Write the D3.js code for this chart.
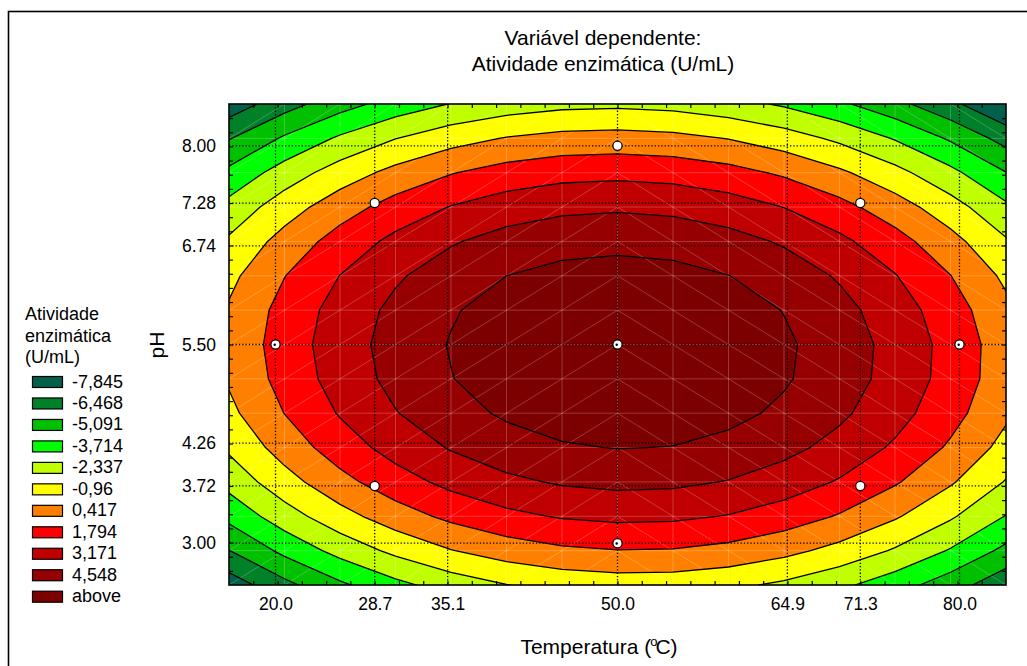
<!DOCTYPE html>
<html><head><meta charset="utf-8">
<script src="https://cdn.jsdelivr.net/npm/d3@7"></script>
<style>
body{margin:0;background:#fff}
svg{display:block}
text{font-family:"Liberation Sans",Arial,Helvetica,sans-serif;fill:#000}
</style>
</head><body>
<svg id="c" width="1027" height="666"></svg>
<script>
// ---------- data ----------
const levels = [-7.845, -6.468, -5.091, -3.714, -2.337, -0.96, 0.417, 1.794, 3.171, 4.548];
const legendLabels = ["-7,845", "-6,468", "-5,091", "-3,714", "-2,337", "-0,96", "0,417", "1,794", "3,171", "4,548", "above"];
const bandColors = ["#00604b", "#008028", "#00c000", "#00ff00", "#c0ff00", "#ffff00", "#ff8000", "#ff0000", "#c00000", "#960000", "#7d0000"];
const xTicks = [20.0, 28.7, 35.1, 50.0, 64.9, 71.3, 80.0];
const yTicks = [3.00, 3.72, 4.26, 5.50, 6.74, 7.28, 8.00];
// experimental design points (Temperatura, pH)
const designT  = [50.0, 28.7, 71.3, 20.0, 50.0, 80.0, 28.7, 71.3, 50.0];
const designPH = [8.00, 7.28, 7.28, 5.50, 5.50, 5.50, 3.72, 3.72, 3.00];
const designMarked = [false, false, false, true, true, true, false, false, true];
// fitted quadratic model on coded variables: b0, bT, bT², bpH, bpH², bT·pH
const coefficients = [5.862, 0.098, -2.479, -0.274, -2.771, -0.16];
const codingCenter = [50.0, 5.50];
const codingStep = [21.3, 1.78];
const codedRangeT = [-1.6, 1.6];
const codedRangePH = [-1.7, 1.7];
const gridN = 15;

// ---------- setup ----------
const svg = d3.select("#c");
const L = 229, R = 1006, T = 104, B = 585;
const Tmin = codingCenter[0] + codedRangeT[0] * codingStep[0];
const Tmax = codingCenter[0] + codedRangeT[1] * codingStep[0];
const Pmin = codingCenter[1] + codedRangePH[0] * codingStep[1];
const Pmax = codingCenter[1] + codedRangePH[1] * codingStep[1];
const x = d3.scaleLinear().domain([Tmin, Tmax]).range([L, R]);
const y = d3.scaleLinear().domain([Pmin, Pmax]).range([B, T]);

function model(t, p) {
  const a = (t - codingCenter[0]) / codingStep[0];
  const b = (p - codingCenter[1]) / codingStep[1];
  const c = coefficients;
  return c[0] + c[1] * a + c[2] * a * a + c[3] * b + c[4] * b * b + c[5] * a * b;
}
const dT = (Tmax - Tmin) / (gridN - 1), dP = (Pmax - Pmin) / (gridN - 1);
const Tn = d3.range(gridN).map(i => Tmin + i * dT);
const Pn = d3.range(gridN).map(j => Pmax - j * dP);
const values = [];
for (let j = 0; j < gridN; j++) for (let i = 0; i < gridN; i++) values.push(model(Tn[i], Pn[j]));

const contours = d3.contours().size([gridN, gridN]).thresholds(levels)(values);
const proj = d3.geoTransform({
  point(cx, cy) { this.stream.point(x(Tmin + (cx - 0.5) * dT), y(Pmax - (cy - 0.5) * dP)); }
});
const path = d3.geoPath(proj);

// frame
svg.append("rect").attr("x", 8.5).attr("y", 11.5).attr("width", 1200).attr("height", 1000)
  .attr("fill", "none").attr("stroke", "#000").attr("stroke-width", 1.6);

svg.append("clipPath").attr("id", "plotclip").append("rect")
  .attr("x", L).attr("y", T).attr("width", R - L).attr("height", B - T);

const plot = svg.append("g").attr("clip-path", "url(#plotclip)");
plot.append("rect").attr("x", L).attr("y", T).attr("width", R - L).attr("height", B - T)
  .attr("fill", bandColors[0]);
plot.selectAll("path.band").data(contours).join("path").attr("class", "band")
  .attr("d", path).attr("fill", (d, k) => bandColors[k + 1]).attr("stroke", "none");

// faint mesh
const mesh = plot.append("g").attr("stroke", "#fff").attr("stroke-opacity", 0.28).attr("stroke-width", 0.8).attr("fill", "none");
Tn.forEach(t => mesh.append("line").attr("x1", x(t)).attr("x2", x(t)).attr("y1", T).attr("y2", B));
Pn.forEach(p => mesh.append("line").attr("y1", y(p)).attr("y2", y(p)).attr("x1", L).attr("x2", R));
const half = (gridN - 1) / 2;
for (let i = 0; i < gridN - 1; i++) for (let j = 0; j < gridN - 1; j++) {
  const t0 = Tn[i], t1 = Tn[i + 1], pa = Pn[j], pb = Pn[j + 1]; // pa top, pb bottom
  if (i < half) mesh.append("line").attr("x1", x(t0)).attr("y1", y(pb)).attr("x2", x(t1)).attr("y2", y(pa));
  else mesh.append("line").attr("x1", x(t0)).attr("y1", y(pa)).attr("x2", x(t1)).attr("y2", y(pb));
}

// contour lines
plot.selectAll("path.line").data(contours).join("path").attr("class", "line")
  .attr("d", path).attr("fill", "none").attr("stroke", "#000").attr("stroke-width", 1.3)
  .attr("stroke-linejoin", "round");

// dotted grid
const grid = svg.append("g").attr("stroke", "#000").attr("stroke-width", 1.3).attr("stroke-dasharray", "1.3,2");
xTicks.forEach(t => grid.append("line").attr("x1", x(t)).attr("x2", x(t)).attr("y1", T).attr("y2", B));
yTicks.forEach(p => grid.append("line").attr("y1", y(p)).attr("y2", y(p)).attr("x1", L).attr("x2", R));

// minor inward ticks
const minorT = d3.range(-15, 16).map(k => codingCenter[0] + k * 0.1 * codingStep[0]);
const minorP = d3.range(-16, 17).map(k => codingCenter[1] + k * 0.1 * codingStep[1]);
function styleAxis(g) { g.select(".domain").remove(); g.selectAll("line").attr("stroke", "#000").attr("stroke-width", 1.2); g.selectAll("text").remove(); }
svg.append("g").attr("transform", `translate(0,${B})`).call(d3.axisBottom(x).tickValues(minorT).tickSize(-4)).call(styleAxis);
svg.append("g").attr("transform", `translate(0,${T})`).call(d3.axisTop(x).tickValues(minorT).tickSize(-4)).call(styleAxis);
svg.append("g").attr("transform", `translate(${L},0)`).call(d3.axisLeft(y).tickValues(minorP).tickSize(-4)).call(styleAxis);
svg.append("g").attr("transform", `translate(${R},0)`).call(d3.axisRight(y).tickValues(minorP).tickSize(-4)).call(styleAxis);

// tick labels
const xa = svg.append("g").attr("transform", `translate(0,${B})`)
  .call(d3.axisBottom(x).tickValues(xTicks).tickFormat(d3.format(".1f")).tickSize(0).tickPadding(13));
xa.select(".domain").remove();
xa.selectAll("text").attr("font-size", "17.5px").attr("font-family", "Liberation Sans, Arial, sans-serif").attr("fill", "#000");
const ya = svg.append("g").attr("transform", `translate(${L},0)`)
  .call(d3.axisLeft(y).tickValues(yTicks).tickFormat(d3.format(".2f")).tickSize(0).tickPadding(13));
ya.select(".domain").remove();
ya.selectAll("text").attr("font-size", "17.5px").attr("font-family", "Liberation Sans, Arial, sans-serif").attr("fill", "#000");

// border
svg.append("rect").attr("x", L).attr("y", T).attr("width", R - L).attr("height", B - T)
  .attr("fill", "none").attr("stroke", "#000").attr("stroke-width", 1.6);

// design points
const pts = svg.append("g");
designT.forEach((t, i) => {
  pts.append("circle").attr("cx", x(t)).attr("cy", y(designPH[i])).attr("r", 4.6)
    .attr("fill", "#fff").attr("stroke", "#000").attr("stroke-width", 1.2);
  if (designMarked[i]) pts.append("circle").attr("cx", x(t) - 0.8).attr("cy", y(designPH[i]) + 0.3).attr("r", 1.2).attr("fill", "#000");
});

// titles
svg.append("text").attr("x", 603).attr("y", 45).attr("text-anchor", "middle").attr("font-size", "21px").text("Variável dependente:");
svg.append("text").attr("x", 603).attr("y", 71).attr("text-anchor", "middle").attr("font-size", "21px").text("Atividade enzimática (U/mL)");
const xt = svg.append("text").attr("x", 599).attr("y", 654).attr("text-anchor", "middle").attr("font-size", "21px");
xt.append("tspan").text("Temperatura (");
xt.append("tspan").attr("font-size", "13px").attr("dy", -8).attr("dx", -1).text("o");
xt.append("tspan").attr("dy", 8).attr("dx", -2).text("C)");
svg.append("text").attr("transform", "translate(164,345) rotate(-90)").attr("text-anchor", "middle").attr("font-size", "21px").text("pH");

// legend
const lg = svg.append("g");
["Atividade", "enzimática", "(U/mL)"].forEach((s, i) =>
  lg.append("text").attr("x", 25).attr("y", 320 + i * 21.5).attr("font-size", "18px").text(s));
legendLabels.forEach((s, i) => {
  const cy = 382 + i * 21.47;
  lg.append("rect").attr("x", 32.5).attr("y", cy - 5.5).attr("width", 30).attr("height", 11)
    .attr("fill", bandColors[i]).attr("stroke", "#000").attr("stroke-width", 1.2);
  lg.append("text").attr("x", 72).attr("y", cy + 5.5).attr("font-size", "18px").text(s);
});
</script>
</body></html>
